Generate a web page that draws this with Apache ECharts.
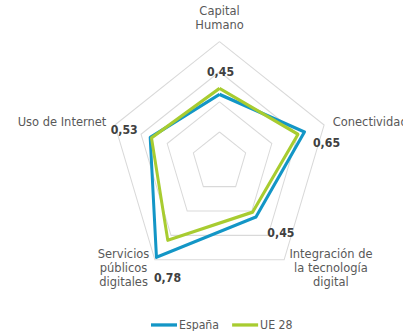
<!DOCTYPE html>
<html>
<head>
<meta charset="utf-8">
<script src="https://cdn.jsdelivr.net/npm/echarts@6/dist/echarts.min.js"></script>
<style>
  html, body { margin: 0; padding: 0; background: #ffffff; overflow: hidden; }
  #wrap { width: 403px; height: 331px; overflow: hidden; }
  /* the chart is laid out a little shorter and stretched vertically to its final height */
  #chart { width: 403px; height: 302px; transform: scaleY(1.096); transform-origin: 0 0; }
</style>
</head>
<body>
<div id="wrap"><div id="chart"></div></div>
<script>
// Indicators, listed counter-clockwise starting at the top
const indicadores = [
  'Capital\nHumano',
  'Uso de Internet',
  'Servicios\npúblicos\ndigitales',
  'Integración de\nla tecnología\ndigital',
  'Conectividad'
];
const espana = [0.45, 0.53, 0.78, 0.45, 0.65];
const ue28   = [0.49, 0.52, 0.64, 0.41, 0.60];
const nombresSeries = ['España', 'UE 28'];
const escalaMin = 0;
const escalaMax = 0.8;

// Styling
const FONT = 'DejaVu Sans, Verdana, sans-serif';
const NAME_SIZE = 11.5;
const COLOR_ES = '#1396c6';
const COLOR_UE = '#a8cc30';
const TEXT_GRAY = '#595959';
const VALUE_DARK = '#404040';
// Offset of each value label from its vertex (same order as indicadores)
const offsetsEtiqueta = [[1, -21], [-26, -7], [11, 19], [25, 14], [22, 10]];

const fmt = v => v.toFixed(2).replace('.', ',');

const nameRich = {
  srv: { width: 52, align: 'center', fontFamily: FONT, fontSize: NAME_SIZE, color: TEXT_GRAY, lineHeight: 13 },
  int: { width: 83, align: 'center', fontFamily: FONT, fontSize: NAME_SIZE, color: TEXT_GRAY, lineHeight: 13 }
};

// One invisible item per value label so each can be placed individually
const etiquetas = espana.map((v, i) => ({
  name: 'etiqueta' + i,
  value: espana.map((w, j) => (j === i ? w : '-')),
  label: {
    show: true,
    position: 'inside',
    offset: offsetsEtiqueta[i],
    formatter: p => (typeof p.value === 'number' && !isNaN(p.value)) ? fmt(p.value) : '',
    fontFamily: FONT,
    fontSize: 11,
    fontWeight: 'bold',
    color: VALUE_DARK
  }
}));

const chart = echarts.init(document.getElementById('chart'), null, { renderer: 'svg' });
chart.setOption({
  animation: false,
  backgroundColor: '#ffffff',
  legend: {
    data: nombresSeries,
    left: 146,
    top: 286,
    icon: 'rect',
    itemWidth: 26,
    itemHeight: 3,
    itemGap: 13,
    textStyle: { fontFamily: FONT, fontSize: 11, color: TEXT_GRAY, padding: [0, 0, 0, -3] }
  },
  radar: {
    center: [219.5, 148],
    radius: 110,
    startAngle: 90,
    splitNumber: 4,
    shape: 'polygon',
    nameGap: 9,
    indicator: indicadores.map(n => ({ name: n, min: escalaMin, max: escalaMax })),
    axisName: {
      fontFamily: FONT,
      fontSize: NAME_SIZE,
      color: TEXT_GRAY,
      lineHeight: 13,
      rich: nameRich,
      formatter: function (name) {
        if (name.indexOf('Servicios') === 0) return '{srv|' + name + '}';
        if (name.indexOf('Integración') === 0) return '{int|' + name + '}';
        return name;
      }
    },
    splitLine: { lineStyle: { color: '#d9d9d9', width: 1 } },
    splitArea: { show: false },
    axisLine: { show: false },
    axisTick: { show: false },
    axisLabel: { show: false }
  },
  series: [
    {
      type: 'radar',
      silent: true,
      symbol: 'none',
      data: [
        {
          name: nombresSeries[0],
          value: espana,
          lineStyle: { color: COLOR_ES, width: 3 },
          itemStyle: { color: COLOR_ES }
        },
        {
          name: nombresSeries[1],
          value: ue28,
          lineStyle: { color: COLOR_UE, width: 3 },
          itemStyle: { color: COLOR_UE }
        }
      ]
    },
    {
      type: 'radar',
      name: 'etiquetas',
      silent: true,
      symbol: 'circle',
      symbolSize: 1,
      itemStyle: { color: 'rgba(0,0,0,0)' },
      lineStyle: { opacity: 0 },
      data: etiquetas
    }
  ]
});
</script>
</body>
</html>
